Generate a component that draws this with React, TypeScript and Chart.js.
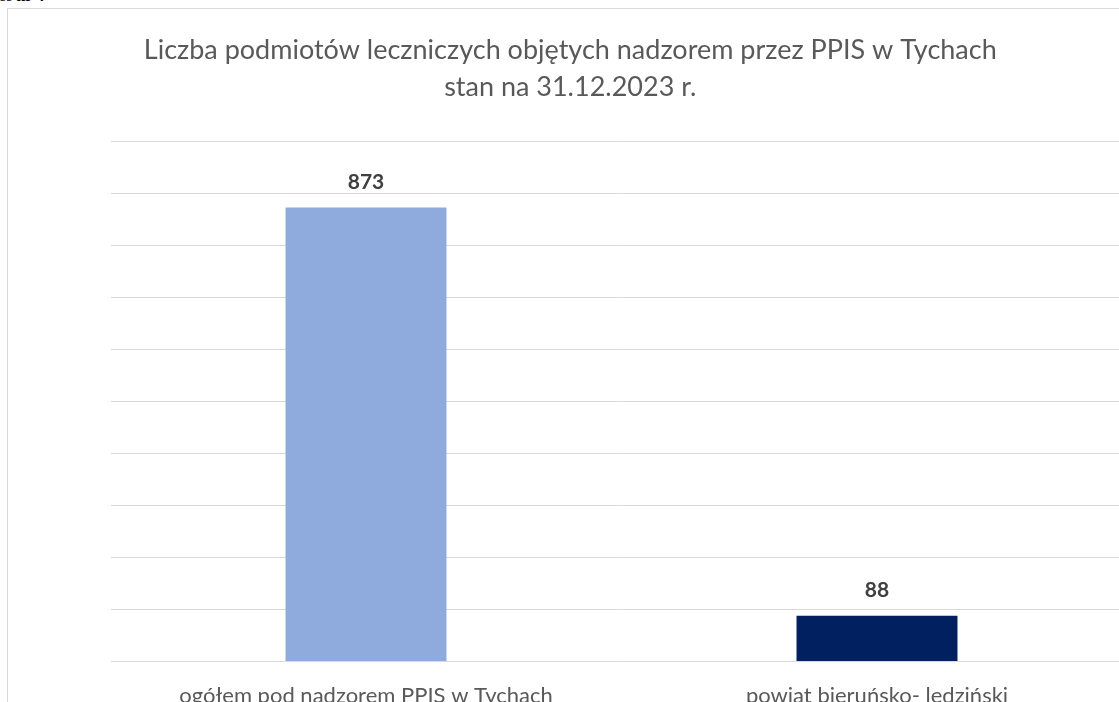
import React, { useEffect, useRef } from "react";
import { Chart, registerables } from "chart.js";

Chart.register(...registerables);

const categories = ["ogółem pod nadzorem PPIS w Tychach", "powiat bieruńsko- ledziński"];
const values = [873, 88];
const barColors = ["#8FAADC", "#002060"];
const titleLines = ["Liczba podmiotów leczniczych objętych nadzorem przez PPIS w Tychach", "stan na 31.12.2023 r."];
const yMin = 0;
const yMax = 1000;
const yStep = 100;

const valueLabels = {
  id: "valueLabels",
  afterDatasetsDraw(chart: any) {
    const ctx = chart.ctx;
    const meta = chart.getDatasetMeta(0);
    ctx.save();
    ctx.font = "bold 21px Lato";
    ctx.fillStyle = "#404040";
    ctx.textAlign = "center";
    ctx.textBaseline = "middle";
    meta.data.forEach((el: any, i: number) => {
      ctx.fillText(String(chart.data.datasets[0].data[i]), el.x, el.y - 25.5);
    });
    ctx.restore();
  },
};

export default function App() {
  const ref = useRef<HTMLCanvasElement | null>(null);
  useEffect(() => {
    if (!ref.current) return;
    const chart = new Chart(ref.current, {
      type: "bar",
      data: {
        labels: categories,
        datasets: [
          {
            data: values,
            backgroundColor: barColors,
            categoryPercentage: 1,
            barPercentage: 0.315,
          },
        ],
      },
      options: {
        animation: false,
        responsive: false,
        maintainAspectRatio: false,
        layout: { padding: { left: 0, right: 3.5, top: 0, bottom: 0 } },
        plugins: {
          legend: { display: false },
          tooltip: { enabled: false },
          title: {
            display: true,
            text: titleLines,
            color: "#595959",
            font: { family: "Lato", size: 27, weight: "normal", lineHeight: "37px" },
            padding: { top: 22.5, bottom: 36 },
          },
        },
        scales: {
          x: {
            grid: { display: false, drawTicks: false },
            border: { display: false },
            ticks: {
              color: "#595959",
              font: { family: "Lato", size: 22 },
              padding: 21,
              maxRotation: 0,
              autoSkip: false,
            },
            afterFit: (scale: any) => {
              scale.height = 67.5;
            },
          },
          y: {
            min: yMin,
            max: yMax,
            ticks: { display: false, stepSize: yStep },
            grid: { color: "#D9D9D9", lineWidth: 1, drawTicks: false },
            border: { display: false },
            afterFit: (scale: any) => {
              scale.width = 102.5;
            },
          },
        },
      },
      plugins: [valueLabels],
    });
    return () => chart.destroy();
  }, []);

  return (
    <div style={{ position: "fixed", left: 0, top: 0, width: 1119, height: 702, overflow: "hidden", background: "#fff" }}>
      <div style={{ position: "absolute", left: 0, top: -13, font: "bold 16px serif", color: "#000", whiteSpace: "nowrap" }}>
        ss nr 4
      </div>
      <div
        style={{
          position: "absolute",
          left: 7,
          top: 8,
          width: 1128,
          height: 720,
          borderLeft: "1px solid #D9D9D9",
          borderTop: "1px solid #D9D9D9",
          background: "#fff",
        }}
      >
        <canvas ref={ref} width={1128} height={720} style={{ display: "block", width: 1128, height: 720 }} />
      </div>
    </div>
  );
}
